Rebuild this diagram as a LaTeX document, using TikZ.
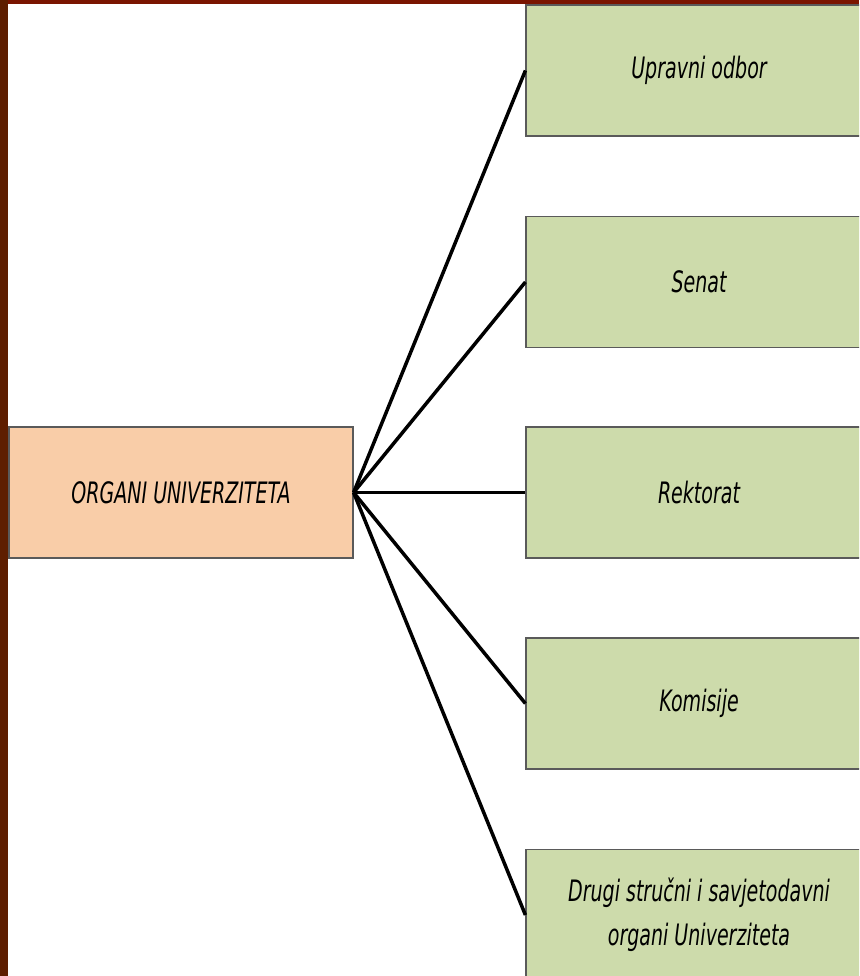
\documentclass[tikz,border=0pt]{standalone}
\usepackage{fontspec}
\setmainfont{DejaVu Sans}[FakeStretch=0.645]
\definecolor{gfill}{HTML}{CDDBAB}
\definecolor{ofill}{HTML}{F9CDA8}
\definecolor{boxline}{HTML}{5A5A5A}
\definecolor{brownL}{HTML}{5E1E00}
\definecolor{brownT}{HTML}{7A1500}
\begin{document}
\begin{tikzpicture}[x=1pt,y=-1pt,
  basebox/.style={draw=boxline, line width=1.2pt, inner sep=0pt, minimum height=131pt,
    align=center, font=\itshape\fontsize{29.5}{44}\selectfont},
  gbox/.style={basebox, fill=gfill, minimum width=346pt},
  obox/.style={basebox, fill=ofill, minimum width=344pt},
  conn/.style={line width=3.5pt}]
\useasboundingbox (0,0) rectangle (859,976);
\clip (0,0) rectangle (859,976);
\fill[white] (0,0) rectangle (859,976);
\node[obox] (org) at (181,492.5) {ORGANI UNIVERZITETA};
\node[gbox] (b1) at (699,70.5) {Upravni odbor};
\node[gbox] (b2) at (699,282) {Senat};
\node[gbox] (b3) at (699,492.5) {Rektorat};
\node[gbox] (b4) at (699,703.5) {Komisije};
\node[gbox] (b5) at (699,915) {Drugi stručni i savjetodavni\\organi Univerziteta};
\foreach \b in {b1,b2,b3,b4,b5} \draw[conn] (org.east) -- (\b.west);
\fill[brownT] (0,0) rectangle (859,4);
\fill[brownL] (0,0) rectangle (8,976);
\end{tikzpicture}
\end{document}
